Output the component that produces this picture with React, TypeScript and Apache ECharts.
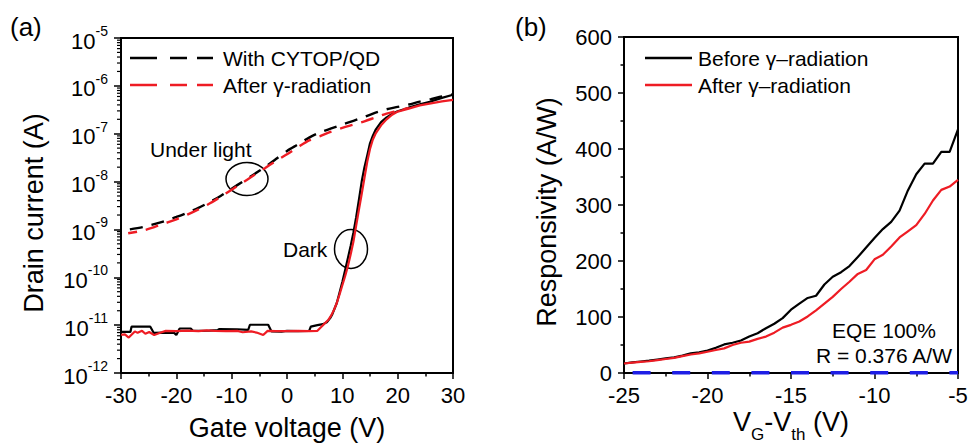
import React, { useEffect, useRef } from 'react';
import * as echarts from 'echarts';

const FONT = '"Liberation Sans", Arial, Helvetica, sans-serif';
const RED = '#ee1c24';
const BLUE = '#1e1ee6';

// ---------- Panel (a): transfer curves ----------
const gateTicks = [-30, -20, -10, 0, 10, 20, 30];

const darkBeforeV = [-30, -28.3, -28.1, -24.7, -24.1, -22, -20.4, -20, -19.4, -17.4, -17, -14, -12.5, -12.2, -9, -7, -6.7, -3.4, -2.8, -1, 0, 2, 4, 4.3, 5.5, 6.5, 7.2, 7.8, 8.2, 9, 9.5, 10, 10.5, 11, 11.5, 12, 12.5, 13, 13.5, 14, 14.5, 15, 15.5, 16, 17, 18, 19, 20, 22, 24, 26, 28, 30];
const darkBeforeI = [7.2e-12, 7.2e-12, 9.3e-12, 9.3e-12, 6.9e-12, 7.0e-12, 6.9e-12, 6.2e-12, 8.5e-12, 8.5e-12, 7.6e-12, 7.7e-12, 7.9e-12, 8.3e-12, 8.2e-12, 8.0e-12, 1.02e-11, 1.02e-11, 7.4e-12, 7.3e-12, 7.6e-12, 7.5e-12, 7.6e-12, 9.3e-12, 1.0e-11, 1.05e-11, 1.15e-11, 1.4e-11, 1.7e-11, 2.9e-11, 4.8e-11, 8e-11, 1.4e-10, 2.5e-10, 4.5e-10, 8.5e-10, 1.8e-9, 4.2e-9, 1.0e-8, 2.0e-8, 3.5e-8, 6.3e-8, 9e-8, 1.2e-7, 1.75e-7, 2.2e-7, 2.6e-7, 2.95e-7, 3.5e-7, 4.1e-7, 4.7e-7, 5.6e-7, 6.5e-7];

const darkAfterV = [-30, -29.3, -28.6, -27.5, -27, -26.2, -25.6, -24.9, -24, -22.8, -21.9, -20, -18, -16, -14.5, -13, -11, -9, -8, -6.5, -5.5, -4.3, -3.5, -2, 0, 2, 4, 5.5, 6.5, 7.5, 8, 8.5, 9, 9.5, 10, 10.5, 11, 11.5, 12, 12.5, 13, 13.5, 14, 14.5, 15, 15.5, 16, 17, 18, 19, 20, 22, 24, 26, 28, 30];
const darkAfterI = [6.3e-12, 6.4e-12, 5.5e-12, 7.4e-12, 6.9e-12, 7.6e-12, 6.6e-12, 7.2e-12, 6.2e-12, 7.0e-12, 7.6e-12, 7.5e-12, 7.7e-12, 7.5e-12, 7.8e-12, 7.6e-12, 7.5e-12, 7.6e-12, 7.1e-12, 7.4e-12, 7.0e-12, 6.2e-12, 7.6e-12, 7.5e-12, 7.5e-12, 7.6e-12, 7.5e-12, 7.6e-12, 1.0e-11, 1.3e-11, 1.6e-11, 2.1e-11, 2.9e-11, 4.4e-11, 6.8e-11, 1.05e-10, 1.7e-10, 3.0e-10, 5.5e-10, 1.2e-9, 2.6e-9, 5.5e-9, 1.2e-8, 2.6e-8, 4.8e-8, 7.5e-8, 1.0e-7, 1.5e-7, 2.0e-7, 2.5e-7, 2.9e-7, 3.35e-7, 3.9e-7, 4.3e-7, 4.75e-7, 5.1e-7];

const lightBeforeV = [-28.4, -26, -24, -22, -20, -18, -16, -14, -12, -10, -8, -6, -4, -2, 0, 2, 4, 6, 8, 10, 12, 14, 16, 18, 20, 22, 24, 26, 28, 30];
const lightBeforeI = [1.0e-9, 1.12e-9, 1.29e-9, 1.51e-9, 1.82e-9, 2.24e-9, 2.82e-9, 3.72e-9, 5.0e-9, 7.1e-9, 1.0e-8, 1.41e-8, 2.0e-8, 2.95e-8, 4.37e-8, 6.0e-8, 8.3e-8, 1.07e-7, 1.29e-7, 1.55e-7, 1.86e-7, 2.24e-7, 2.75e-7, 3.24e-7, 3.63e-7, 4.07e-7, 4.68e-7, 5.25e-7, 6.03e-7, 6.6e-7];

const lightAfterV = [-28.7, -26, -24, -22, -20, -18, -16, -14, -12, -10, -8, -6, -4, -2, 0, 2, 4, 6, 8, 10, 12, 14, 16, 18, 20, 22];
const lightAfterI = [8.3e-10, 9.5e-10, 1.12e-9, 1.35e-9, 1.62e-9, 2.04e-9, 2.63e-9, 3.47e-9, 4.79e-9, 6.76e-9, 9.55e-9, 1.35e-8, 1.9e-8, 2.69e-8, 3.72e-8, 5.25e-8, 7.24e-8, 8.9e-8, 1.1e-7, 1.32e-7, 1.55e-7, 1.82e-7, 2.19e-7, 2.63e-7, 3.02e-7, 3.47e-7];

// ---------- Panel (b): responsivity ----------
const vthV = [-25, -24.5, -24, -23.5, -23, -22.5, -22, -21.5, -21, -20.5, -20, -19.5, -19, -18.5, -18, -17.5, -17, -16.5, -16, -15.5, -15, -14.5, -14, -13.5, -13, -12.5, -12, -11.5, -11, -10.5, -10, -9.5, -9, -8.5, -8, -7.5, -7, -6.5, -6, -5.5, -5];
const respBefore = [17, 19, 20.5, 22, 24, 26, 28, 31, 35, 37, 40, 45, 51, 54, 58, 65, 71, 80, 88, 98, 113, 124, 134, 138, 158, 172, 180, 191, 207, 224, 241, 257, 270, 290, 326, 355, 374, 374, 395, 395, 435];
const respAfter = [17, 18.5, 20, 21, 23, 25, 27, 30, 33, 35, 38, 41, 44, 50, 54, 56, 61, 65, 72, 81, 86, 92, 101, 112, 124, 136, 150, 163, 177, 184, 203, 211, 226, 242, 253, 264, 284, 308, 327, 333, 345];
const eqeV = [-25, -5];
const eqeR = [0.376, 0.376];

// log-axis minor ticks (2..9 within each decade)
const logMinor: number[] = [];
for (let e = -12; e < -5; e++) for (let m = 2; m <= 9; m++) logMinor.push(m * Math.pow(10, e));

const pairs = (xs: number[], ys: number[]) => xs.map((x, i) => [x, ys[i]]);

const axisLineStyle = { show: true, onZero: false, lineStyle: { color: '#000', width: 2 } };
const tickStyle = { show: true, length: 6, lineStyle: { color: '#000', width: 1.5 } };
const minorTickStyle = { show: true, splitNumber: 2, length: 3.5, lineStyle: { color: '#000', width: 1.5 } };
const labelStyle = { color: '#000', fontSize: 22, fontFamily: FONT };

function buildOption(): any {
  const txt = (text: string, x: number, y: number, size: number, extra: any = {}, rotation = 0) => ({
    type: 'text', x, y, rotation, silent: true,
    style: { text, fontSize: size, fontFamily: FONT, fill: '#000', textAlign: 'left', textVerticalAlign: 'middle', ...extra },
  });
  const seg = (x1: number, x2: number, y: number, color: string) => ({
    type: 'line', silent: true, shape: { x1, y1: y, x2, y2: y }, style: { stroke: color, lineWidth: 2.5 },
  });
  return {
    animation: false,
    backgroundColor: '#fff',
    grid: [
      { left: 121, right: 518, top: 38, bottom: 72, show: true, borderColor: '#000', borderWidth: 2, backgroundColor: 'transparent' },
      { left: 624, right: 13, top: 37, bottom: 72, show: true, borderColor: '#000', borderWidth: 2, backgroundColor: 'transparent' },
    ],
    xAxis: [
      {
        type: 'value', gridIndex: 0, min: gateTicks[0], max: gateTicks[gateTicks.length - 1], interval: 10,
        axisLine: axisLineStyle, axisTick: tickStyle, minorTick: minorTickStyle,
        splitLine: { show: false }, axisLabel: { ...labelStyle, margin: 11, showMaxLabel: true, showMinLabel: true },
      },
      {
        type: 'value', gridIndex: 1, min: -25, max: -5, interval: 5,
        axisLine: axisLineStyle, axisTick: tickStyle, minorTick: minorTickStyle,
        splitLine: { show: false }, axisLabel: { ...labelStyle, margin: 11, showMaxLabel: true, showMinLabel: true },
      },
    ],
    yAxis: [
      {
        type: 'log', gridIndex: 0, min: 1e-12, max: 1e-5, logBase: 10, interval: 1, splitNumber: 7,
        axisLine: axisLineStyle, axisTick: { ...tickStyle, length: 7 },
        splitLine: { show: false },
        axisLabel: {
          margin: 13,
          formatter: (v: number) => `{b|10}{s|${Math.round(Math.log10(v))}}`,
          rich: {
            b: { fontSize: 22, fontFamily: FONT, color: '#000', verticalAlign: 'bottom', padding: [6, 0, 0, 0] },
            s: { fontSize: 14, fontFamily: FONT, color: '#000', verticalAlign: 'top' },
          },
        },
      },
      {
        type: 'value', gridIndex: 1, min: 0, max: 600, interval: 100,
        axisLine: axisLineStyle, axisTick: tickStyle, minorTick: minorTickStyle,
        splitLine: { show: false }, axisLabel: { ...labelStyle, margin: 12 },
      },
    ],
    series: [
      {
        type: 'custom', xAxisIndex: 0, yAxisIndex: 0, clip: false, silent: true,
        data: logMinor.map((v) => [gateTicks[0], v]),
        encode: { x: 0, y: 1 },
        renderItem: (_p: any, api: any) => {
          const pt = api.coord([api.value(0), api.value(1)]);
          return { type: 'line', shape: { x1: pt[0] - 4, y1: pt[1], x2: pt[0], y2: pt[1] }, style: { stroke: '#000', lineWidth: 1.2 } };
        },
      },
      { type: 'line', xAxisIndex: 0, yAxisIndex: 0, data: pairs(darkBeforeV, darkBeforeI), showSymbol: false, symbol: 'none', lineStyle: { color: '#000', width: 2.2 } },
      { type: 'line', xAxisIndex: 0, yAxisIndex: 0, data: pairs(lightBeforeV, lightBeforeI), showSymbol: false, symbol: 'none', smooth: 0.3, lineStyle: { color: '#000', width: 2.4, type: [13, 9] } },
      { type: 'line', xAxisIndex: 0, yAxisIndex: 0, data: pairs(darkAfterV, darkAfterI), showSymbol: false, symbol: 'none', lineStyle: { color: RED, width: 2.2 } },
      { type: 'line', xAxisIndex: 0, yAxisIndex: 0, data: pairs(lightAfterV, lightAfterI), showSymbol: false, symbol: 'none', smooth: 0.3, lineStyle: { color: RED, width: 2.4, type: [13, 9], dashOffset: 4 } },
      { type: 'line', xAxisIndex: 1, yAxisIndex: 1, data: pairs(eqeV, eqeR), showSymbol: false, symbol: 'none', clip: false, lineStyle: { color: BLUE, width: 3.5, type: [18, 21.6], dashOffset: 30.6 } },
      { type: 'line', xAxisIndex: 1, yAxisIndex: 1, data: pairs(vthV, respBefore), showSymbol: false, symbol: 'none', lineStyle: { color: '#000', width: 2.2 } },
      { type: 'line', xAxisIndex: 1, yAxisIndex: 1, data: pairs(vthV, respAfter), showSymbol: false, symbol: 'none', lineStyle: { color: RED, width: 2.2 } },
    ],
    graphic: [
      txt('(a)', 10, 27, 26),
      txt('(b)', 515, 27, 26),
      txt('Drain current (A)', 34, 213, 27, { textAlign: 'center' }, Math.PI / 2),
      txt('Gate voltage (V)', 287, 428, 27, { textAlign: 'center' }),
      txt('Responsivity (A/W)', 547, 212, 27, { textAlign: 'center' }, Math.PI / 2),
      {
        type: 'text', x: 791, y: 443, silent: true,
        style: {
          text: '{a|V}{s|G}{a|-V}{s|th}{a| (V)}', textAlign: 'center', textVerticalAlign: 'bottom', fill: '#000',
          rich: {
            a: { fontSize: 27, fontFamily: FONT, color: '#000', verticalAlign: 'bottom', padding: [0, 0, 8, 0] },
            s: { fontSize: 17, fontFamily: FONT, color: '#000', verticalAlign: 'bottom' },
          },
        },
      },
      // legend (a)
      seg(130, 157, 58, '#000'), seg(170, 187, 58, '#000'), seg(197, 213, 58, '#000'),
      seg(130, 157, 85, RED), seg(170, 187, 85, RED), seg(197, 213, 85, RED),
      txt('With CYTOP/QD', 223, 58, 21),
      txt('After \u03b3-radiation', 223, 85, 21),
      // annotations (a)
      txt('Under light', 150, 149, 21),
      { type: 'ellipse', silent: true, shape: { cx: 247, cy: 179, rx: 21, ry: 16.5 }, style: { fill: 'none', stroke: '#000', lineWidth: 1.5 } },
      txt('Dark', 283, 249, 21),
      { type: 'ellipse', silent: true, shape: { cx: 351, cy: 249, rx: 16.5, ry: 19.5 }, style: { fill: 'none', stroke: '#000', lineWidth: 1.5 } },
      // legend (b)
      seg(645, 692, 58, '#000'), seg(645, 692, 85, RED),
      txt('Before \u03b3\u2013radiation', 698, 58, 21),
      txt('After \u03b3\u2013radiation', 698, 85, 21),
      txt('EQE 100%', 884, 330, 21, { textAlign: 'center' }),
      txt('R = 0.376 A/W', 884, 355, 21, { textAlign: 'center' }),
    ],
  };
}

export default function App() {
  const ref = useRef<HTMLDivElement>(null);
  useEffect(() => {
    if (!ref.current) return;
    const chart = echarts.init(ref.current, null, { renderer: 'svg' });
    chart.setOption(buildOption());
    return () => chart.dispose();
  }, []);
  return <div ref={ref} style={{ position: 'fixed', left: 0, top: 0, width: 971, height: 445, background: '#fff' }} />;
}
